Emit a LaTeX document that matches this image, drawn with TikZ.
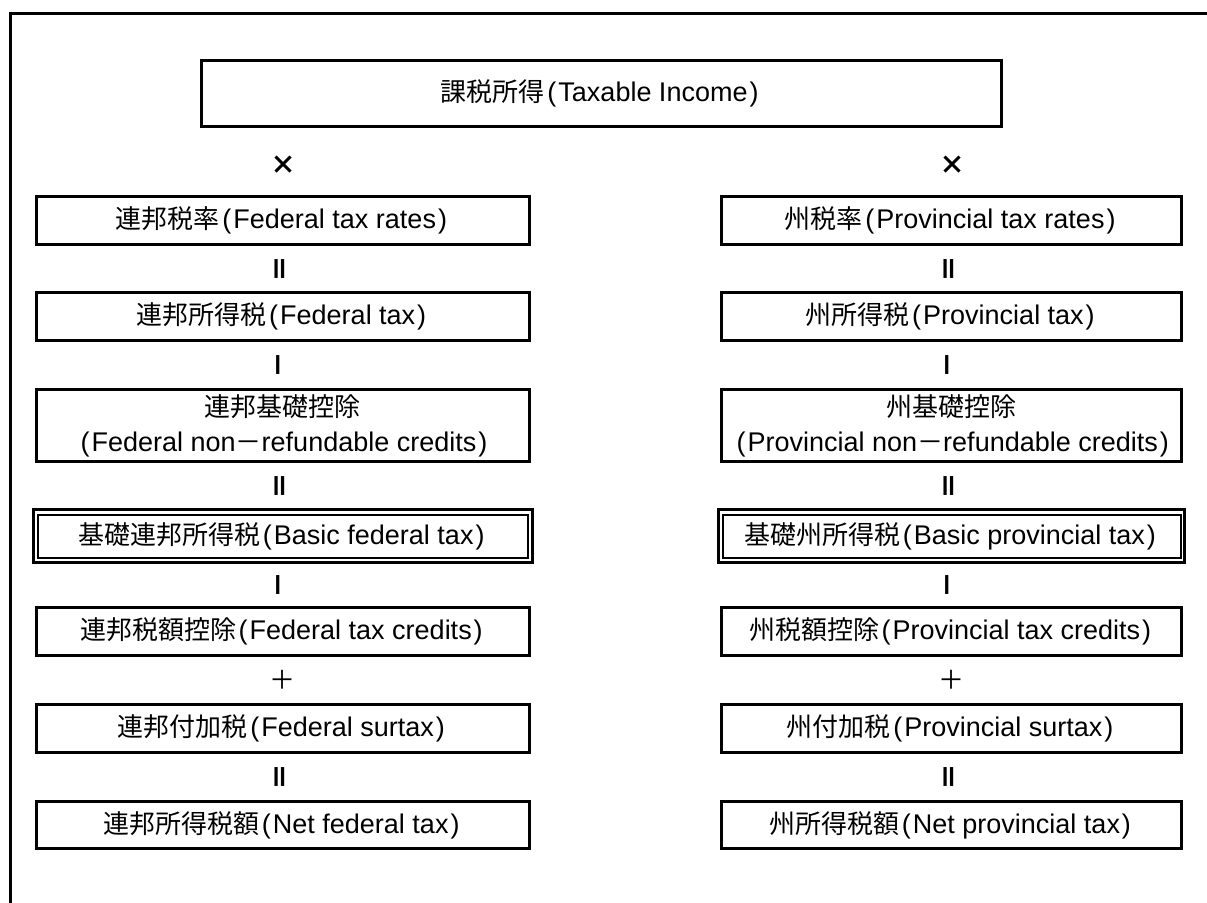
\documentclass[tikz,border=0pt]{standalone}
\usepackage{fontspec}
\setmainfont{Liberation Sans}
\newfontfamily\jpfont{Noto Sans CJK JP}
\newcommand{\J}[1]{{\jpfont\fontsize{26}{35}\selectfont #1}}
\newcommand{\LP}{\hspace{2.5pt}(\hspace{2pt}}
\newcommand{\RP}{\hspace{2pt})\hspace{2.5pt}}
\begin{document}
\begin{tikzpicture}[x=1pt,y=-1pt,
  every node/.style={font=\fontsize{27}{35}\selectfont, inner sep=0pt, align=center},
  box/.style={draw, line width=3pt, minimum height=48pt},
  lbox/.style={box, minimum width=492.5pt},
  rbox/.style={box, minimum width=460pt},
  louter/.style={draw, line width=3pt, minimum width=498.5pt, minimum height=53pt},
  linner/.style={draw, line width=2pt, minimum width=490.5pt, minimum height=43pt},
  router/.style={draw, line width=3pt, minimum width=466pt, minimum height=53pt},
  rinner/.style={draw, line width=2pt, minimum width=458pt, minimum height=43pt},
  opsym/.style={font=\jpfont\fontsize{26}{30}\selectfont},
  vsym/.style={font=\jpfont\bfseries\fontsize{27}{30}\selectfont, rotate=90}
]
\useasboundingbox (0,0) rectangle (1207,902);
\draw[line width=3pt] (10,910) -- (10,13.3) -- (1215,13.3);

\node[draw, line width=3pt, minimum width=800pt, minimum height=66pt] (top) at (601,93.4) {\J{課税所得}\LP Taxable Income\RP};

% left column
\node[opsym] (lx) at (283.5,165) {\bfseries ×};
\node[lbox] (l1) at (282.75,220) {\J{連邦税率}\LP Federal tax rates\RP};
\node[vsym] (le1) at (282.75,268.5) {＝};
\node[lbox] (l2) at (282.75,316.75) {\J{連邦所得税}\LP Federal tax\RP};
\node[vsym] (lm1) at (282.75,365) {－};
\node[lbox, minimum height=72pt] (l3) at (282.75,425.5) {\J{連邦基礎控除}\\\LP Federal non\J{－}refundable credits\RP};
\node[vsym] (le2) at (282.75,485.5) {＝};
\node[louter] (l4o) at (282.75,536) {};
\node[linner] (l4) at (282.75,536) {\J{基礎連邦所得税}\LP Basic federal tax\RP};
\node[vsym] (lm2) at (282.75,585) {－};
\node[lbox] (l5) at (282.75,631.5) {\J{連邦税額控除}\LP Federal tax credits\RP};
\node[opsym] (lp) at (282.75,680) {＋};
\node[lbox] (l6) at (282.75,728.75) {\J{連邦付加税}\LP Federal surtax\RP};
\node[vsym] (le3) at (282.75,777) {＝};
\node[lbox, minimum height=47pt] (l7) at (282.75,825) {\J{連邦所得税額}\LP Net federal tax\RP};

% right column
\node[opsym] (rx) at (952,165) {\bfseries ×};
\node[rbox] (r1) at (951.5,220) {\J{州税率}\LP Provincial tax rates\RP};
\node[vsym] (re1) at (951.5,268.5) {＝};
\node[rbox] (r2) at (951.5,316.75) {\J{州所得税}\LP Provincial tax\RP};
\node[vsym] (rm1) at (951.5,365) {－};
\node[rbox, minimum height=72pt] (r3) at (951.5,425.5) {\J{州基礎控除}\\\LP Provincial non\J{－}refundable credits\RP};
\node[vsym] (re2) at (951.5,485.5) {＝};
\node[router] (r4o) at (951.5,536) {};
\node[rinner] (r4) at (951.5,536) {\J{基礎州所得税}\LP Basic provincial tax\RP};
\node[vsym] (rm2) at (951.5,585) {－};
\node[rbox] (r5) at (951.5,631.5) {\J{州税額控除}\LP Provincial tax credits\RP};
\node[opsym] (rp) at (951.5,680) {＋};
\node[rbox] (r6) at (951.5,728.75) {\J{州付加税}\LP Provincial surtax\RP};
\node[vsym] (re3) at (951.5,777) {＝};
\node[rbox, minimum height=47pt] (r7) at (951.5,825) {\J{州所得税額}\LP Net provincial tax\RP};
\end{tikzpicture}
\end{document}
